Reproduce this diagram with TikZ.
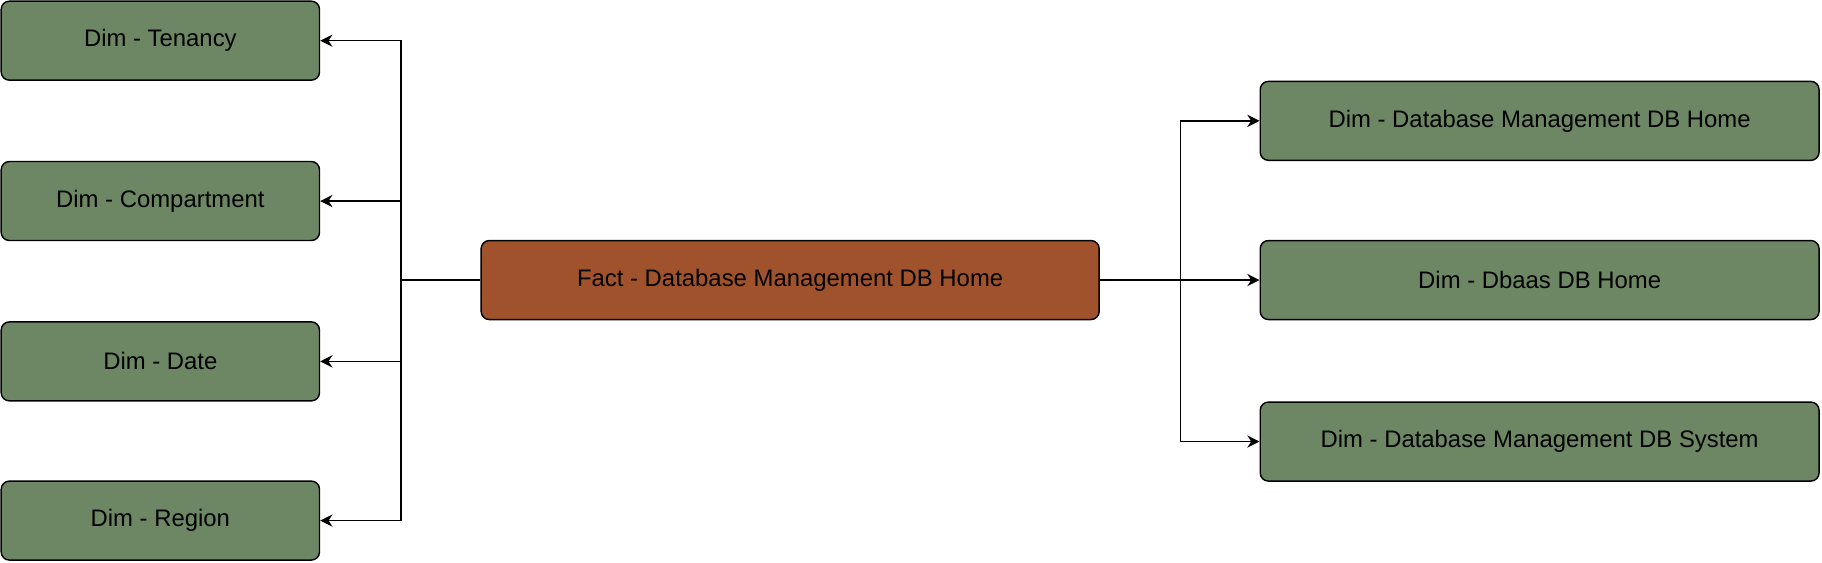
\documentclass[tikz,border=0pt]{standalone}
\usepackage{fontspec}
\setmainfont{Liberation Sans}
\usetikzlibrary{arrows.meta}
\begin{document}
\begin{tikzpicture}[x=0.02cm,y=-0.02cm,
  box/.style={draw=black,line width=0.7pt,rounded corners=4pt,font=\fontsize{11.7pt}{13pt}\selectfont,inner sep=0pt},
  dim/.style={box,fill=dimgreen,minimum height=1.36cm},
  arr/.style={draw=black,line width=0.7pt,-{Stealth[length=6pt,width=6pt]}}]
\definecolor{dimgreen}{HTML}{6D8764}
\definecolor{factbrown}{HTML}{A0522D}
\useasboundingbox (0,0) rectangle (1568,484);
\node[dim,minimum width=5.48cm] (ten) at (138,35) {Dim - Tenancy};
\node[dim,minimum width=5.48cm] (comp) at (138,173) {Dim - Compartment};
\node[dim,minimum width=5.48cm] (date) at (138,311) {Dim - Date};
\node[dim,minimum width=5.48cm] (reg) at (138,448) {Dim - Region};
\node[box,fill=factbrown,minimum width=10.64cm,minimum height=1.36cm] (fact) at (680,241) {Fact - Database Management DB Home};
\node[dim,minimum width=9.62cm] (dmh) at (1325,104) {Dim - Database Management DB Home};
\node[dim,minimum width=9.62cm] (dbh) at (1325,241) {Dim - Dbaas DB Home};
\node[dim,minimum width=9.62cm] (dms) at (1325,380) {Dim - Database Management DB System};
\coordinate (lt) at (345,241);
\coordinate (rt) at (1016,241);
\draw[line width=0.7pt] (fact.west) -- (lt);
\foreach \n in {ten,comp,date,reg} \draw[arr] (lt) |- (\n.east);
\foreach \n in {dmh,dbh,dms} \draw[arr] (fact.east) -- (rt) |- (\n.west);
\end{tikzpicture}
\end{document}
